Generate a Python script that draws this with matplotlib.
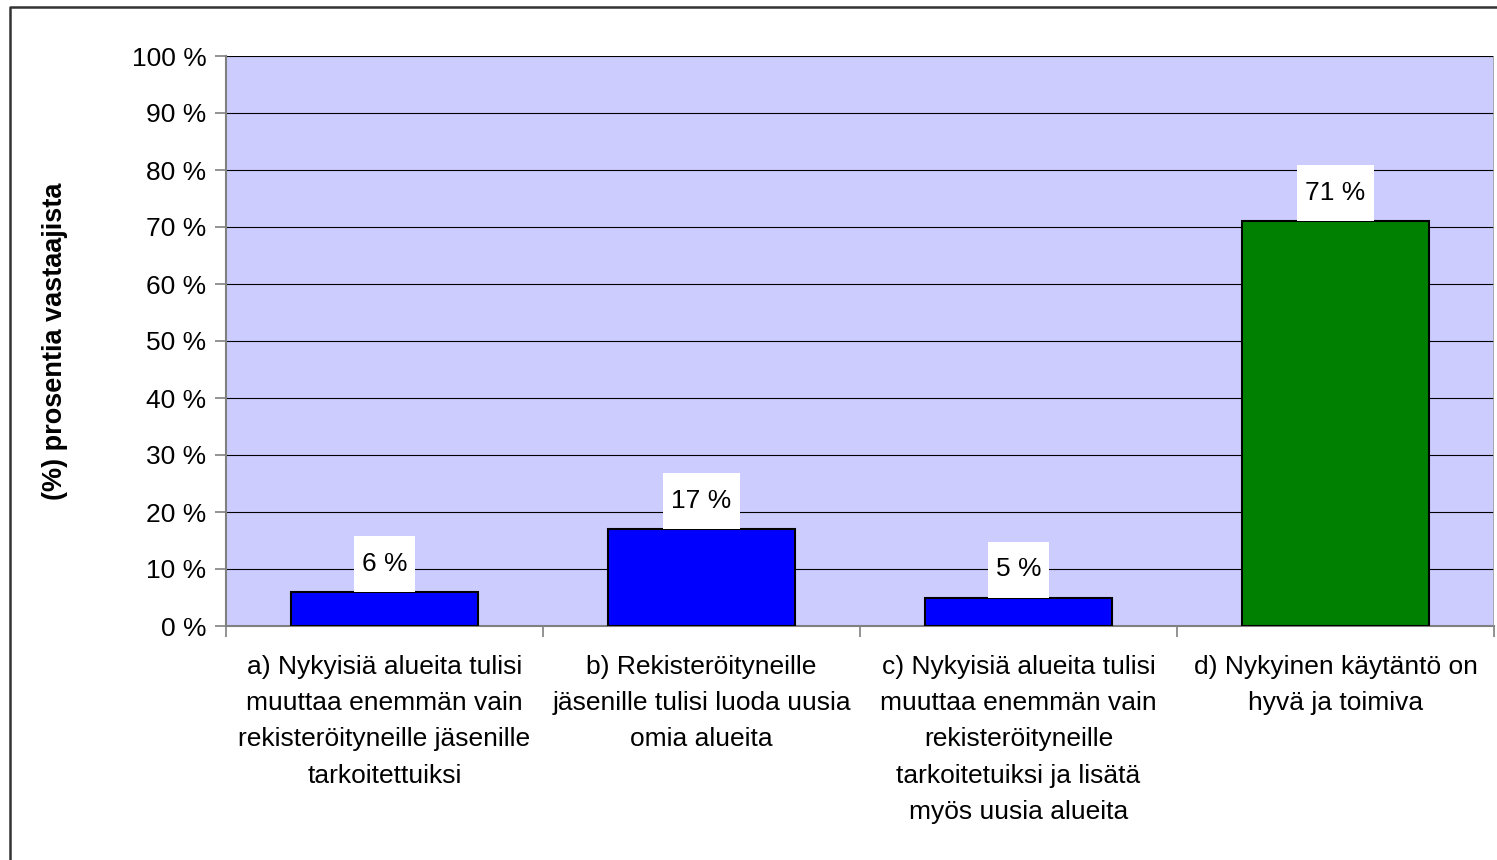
import matplotlib
matplotlib.use("Agg")
import matplotlib.pyplot as plt
from matplotlib.patches import Rectangle
from matplotlib.lines import Line2D
import numpy as np

categories = [
    "a) Nykyisiä alueita tulisi\nmuuttaa enemmän vain\nrekisteröityneille jäsenille\ntarkoitettuiksi",
    "b) Rekisteröityneille\njäsenille tulisi luoda uusia\nomia alueita",
    "c) Nykyisiä alueita tulisi\nmuuttaa enemmän vain\nrekisteröityneille\ntarkoitetuiksi ja lisätä\nmyös uusia alueita",
    "d) Nykyinen käytäntö on\nhyvä ja toimiva",
]
values = [6, 17, 5, 71]
value_labels = ["6 %", "17 %", "5 %", "71 %"]
y_ticks = [0, 10, 20, 30, 40, 50, 60, 70, 80, 90, 100]
y_tick_labels = [f"{v} %" for v in y_ticks]
y_label = "(%) prosentia vastaajista"

bar_colors = ["#0000FF", "#0000FF", "#0000FF", "#008000"]

plt.rcParams['font.family'] = ['Liberation Sans', 'DejaVu Sans']
FS = 19

W, H = 1497, 860
fig = plt.figure(figsize=(W / 100, H / 100), dpi=100)
fig.patch.set_facecolor("white")

# outer frame (left and top edges visible)
fig.add_artist(Line2D([10 / W, 10 / W, 1.01], [-0.01, 1 - 7 / H, 1 - 7 / H],
                      transform=fig.transFigure, color="#333333", lw=1.8))

left, right, top, bottom = 226, 1494, 56, 626
ax = fig.add_axes([left / W, 1 - bottom / H, (right - left) / W, (bottom - top) / H])
ax.set_facecolor("#CCCCFF")

x = np.arange(len(values))
ax.bar(x, values, width=0.59, color=bar_colors, edgecolor="black", linewidth=1.5, zorder=3)

ax.set_xlim(-0.5, len(values) - 0.5)
ax.set_ylim(0, 100)
ax.set_yticks(y_ticks)
ax.set_yticklabels(y_tick_labels, fontsize=FS)
ax.yaxis.grid(True, color="black", linewidth=0.8, zorder=1)
ax.set_axisbelow(True)

ax.set_xticks(x)
ax.set_xticklabels(categories, fontsize=FS, linespacing=1.64, va="top")
ax.set_xticks(np.arange(len(values) + 1) - 0.5, minor=True)
ax.tick_params(axis="x", which="major", length=0, pad=21)
ax.tick_params(axis="x", which="minor", length=8, color="#808080", width=1.2)
ax.tick_params(axis="y", which="major", length=8, color="#808080", width=1.2, pad=6)

for s in ["top", "right"]:
    ax.spines[s].set_visible(False)
for s in ["left", "bottom"]:
    ax.spines[s].set_color("#808080")
    ax.spines[s].set_linewidth(1.5)
ax.add_artist(Line2D([1, 1], [0, 1], transform=ax.transAxes, color="#A0A0A0", lw=1.2, zorder=5))

ax.set_ylabel(y_label, fontsize=19.5, fontweight="bold", labelpad=46)

# value labels with white boxes
fig.canvas.draw()
renderer = fig.canvas.get_renderer()
px_per_unit_y = (bottom - top) / 100.0
px_per_unit_x = (right - left) / len(values)
for xi, v, lab in zip(x, values, value_labels):
    yc = v + 28 / px_per_unit_y
    t = ax.text(xi, yc, lab, ha="center", va="center", fontsize=FS, zorder=6)
    bb = t.get_window_extent(renderer)
    wpx = bb.width + 16
    hpx = 56
    ax.add_patch(Rectangle((xi - wpx / 2 / px_per_unit_x, v), wpx / px_per_unit_x,
                           hpx / px_per_unit_y, facecolor="white", edgecolor="none",
                           zorder=5, clip_on=False))

fig.savefig("out.png", dpi=100, facecolor="white")
